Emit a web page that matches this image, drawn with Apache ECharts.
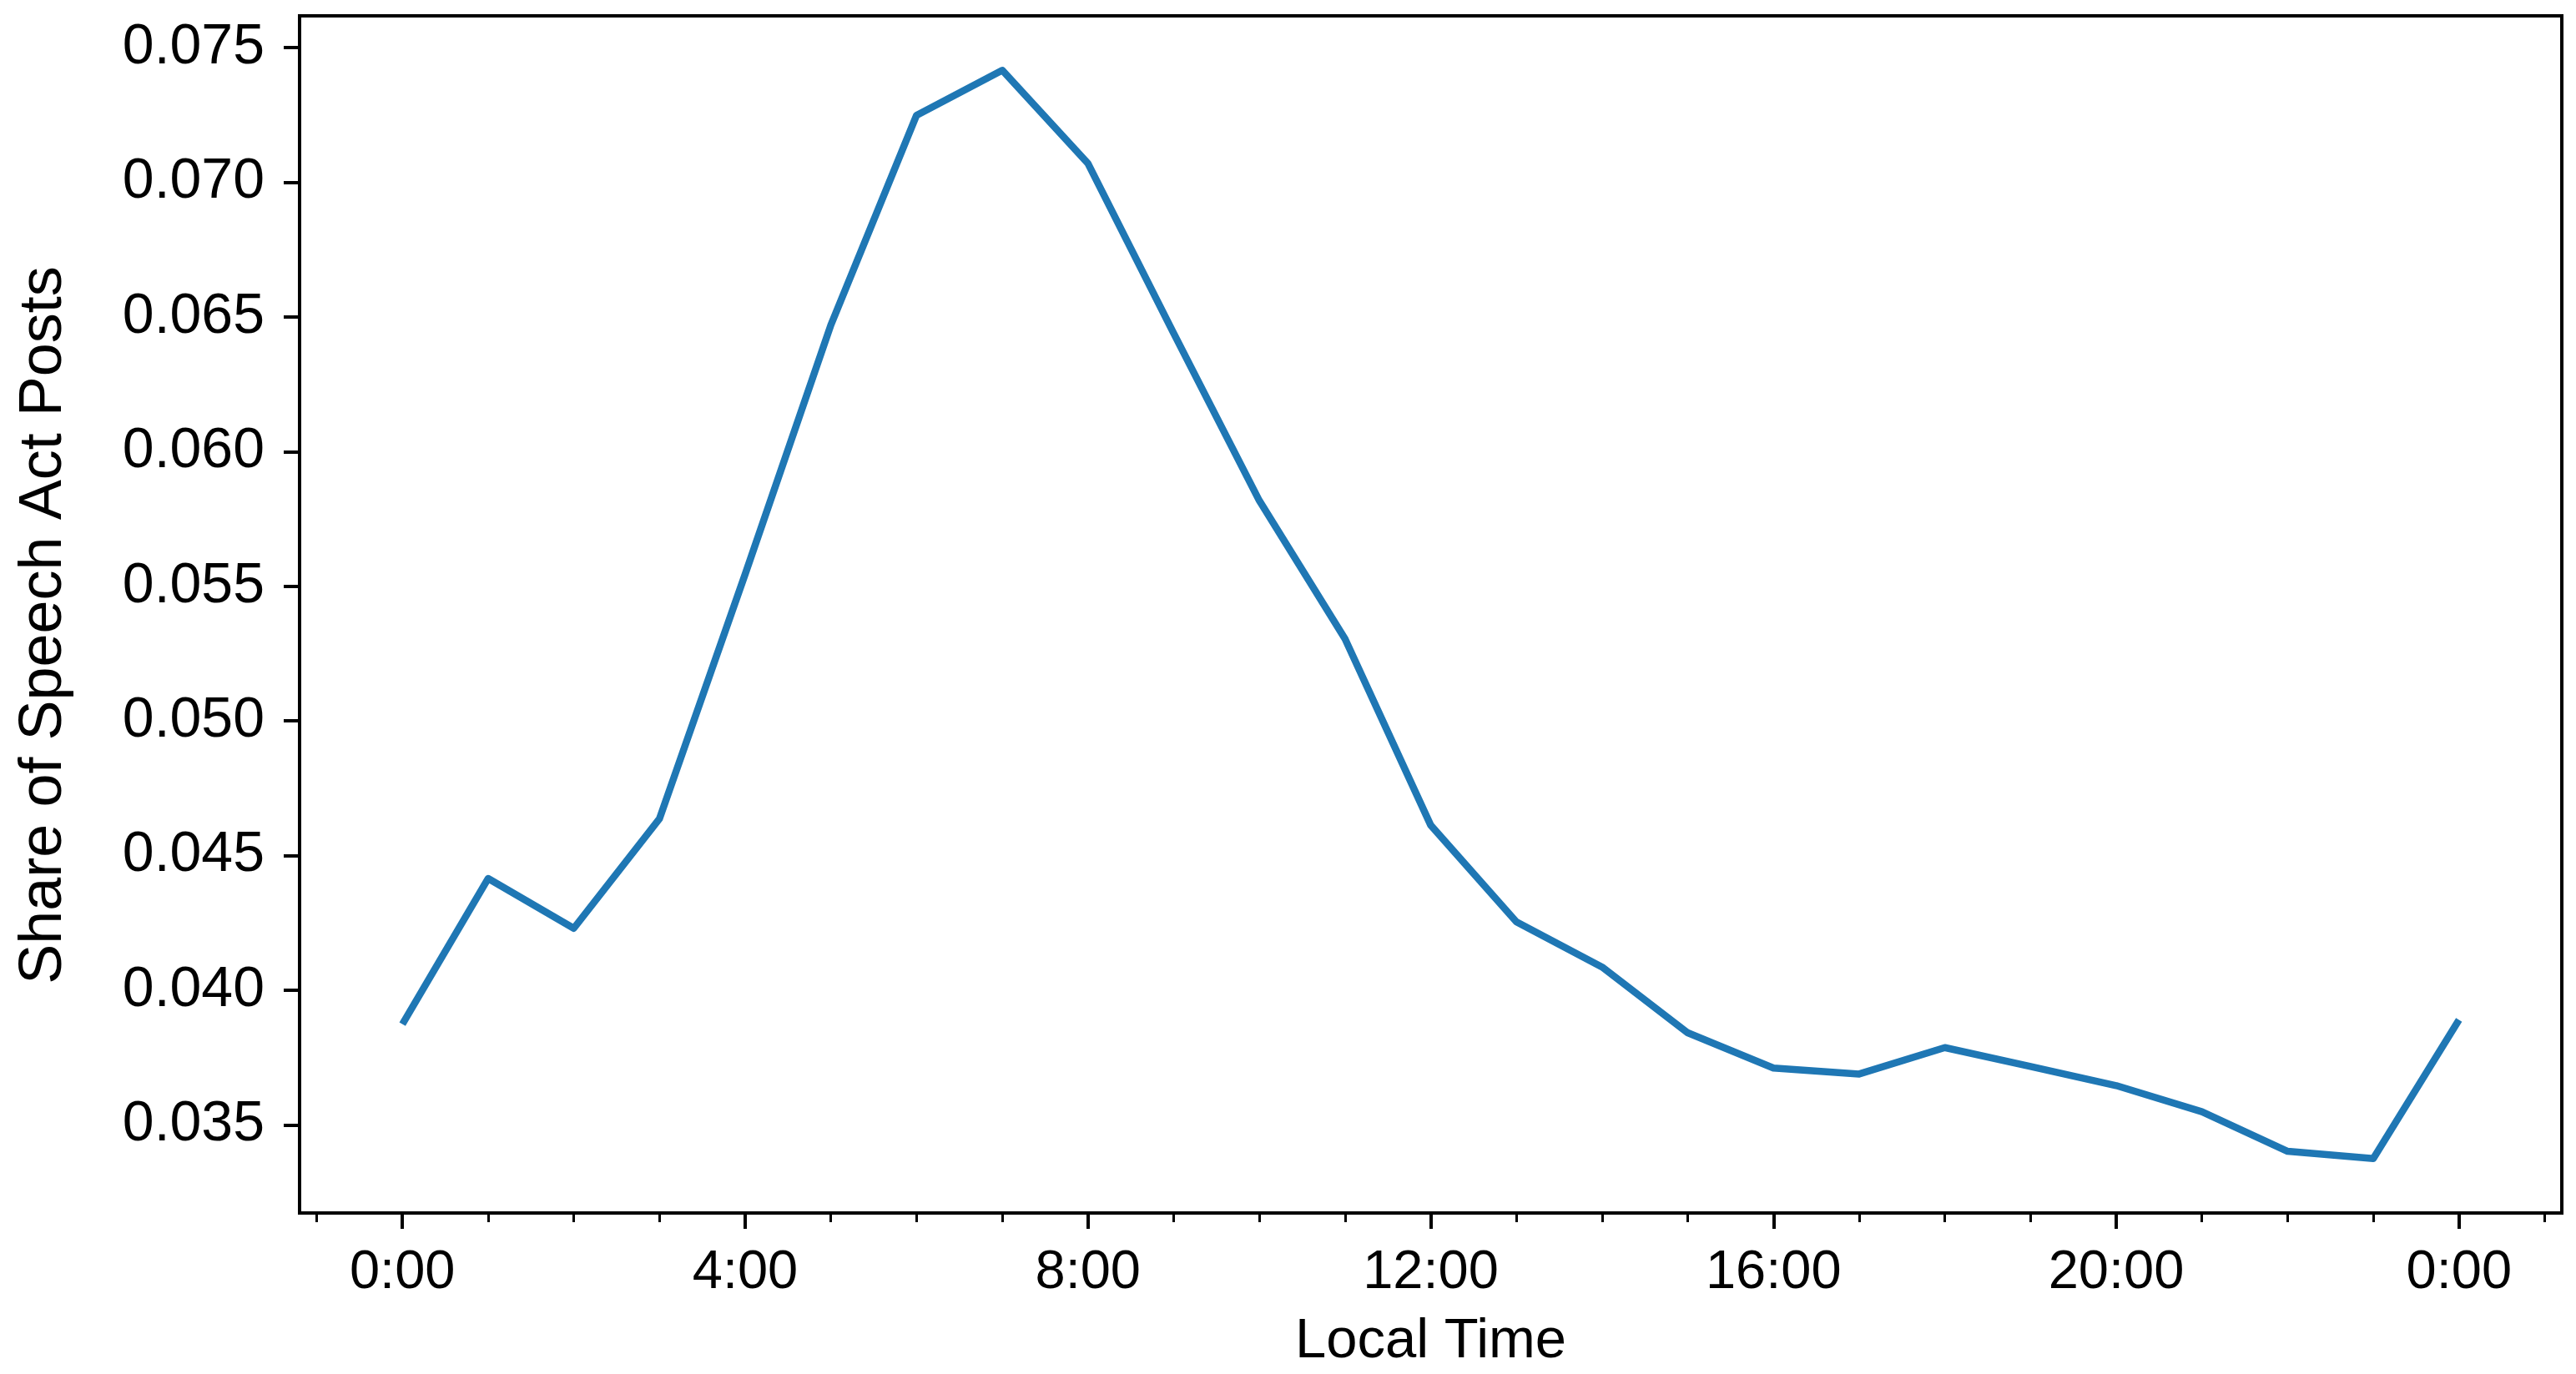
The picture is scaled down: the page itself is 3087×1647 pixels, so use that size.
<!DOCTYPE html>
<html>
<head>
<meta charset="utf-8">
<script src="https://cdn.jsdelivr.net/npm/echarts@6/dist/echarts.min.js"></script>
<style>
html,body{margin:0;padding:0;background:#fff;}
#c{width:3087px;height:1647px;}
</style>
</head>
<body>
<div id="c"></div>
<script>
// Data
var hours = [0,1,2,3,4,5,6,7,8,9,10,11,12,13,14,15,16,17,18,19,20,21,22,23,24];
var share = [0.03874,0.04415,0.04230,0.04637,0.05545,0.06470,0.07249,0.07416,0.07070,0.06440,
             0.05818,0.05305,0.04613,0.04254,0.04086,0.03842,0.03711,0.03689,0.03787,0.03717,
             0.03646,0.03549,0.03402,0.03375,0.03890];
var xMajorTicks = [0,4,8,12,16,20,24];
var xMinorTicks = [-1,0,1,2,3,4,5,6,7,8,9,10,11,12,13,14,15,16,17,18,19,20,21,22,23,24,25];
var yTicks = [0.035,0.040,0.045,0.050,0.055,0.060,0.065,0.070,0.075];
var xName = 'Local Time';
var yName = 'Share of Speech Act Posts';

var pts = hours.map(function(h,i){return [h, share[i]];});
var ymin = Math.min.apply(null, share), ymax = Math.max.apply(null, share);
var yr = ymax - ymin;
var xr = hours[hours.length-1] - hours[0];

var FONT = 'Liberation Sans';
var chart = echarts.init(document.getElementById('c'), null, {renderer:'canvas'});
chart.setOption({
  animation:false,
  backgroundColor:'#fff',
  grid:{left:359, right:17, top:19, bottom:192, show:true, borderColor:'#000', borderWidth:4, backgroundColor:'transparent'},
  xAxis:[{
    type:'value', min:hours[0]-0.05*xr, max:hours[hours.length-1]+0.05*xr,
    position:'bottom',
    name:xName, nameLocation:'middle', nameGap:121,
    nameTextStyle:{fontFamily:FONT, fontSize:67, color:'#000'},
    axisLine:{show:true, onZero:false, lineStyle:{color:'#000', width:4}},
    axisTick:{show:true, length:19, lineStyle:{color:'#000', width:4}, customValues:xMajorTicks},
    axisLabel:{show:true, margin:40, fontFamily:FONT, fontSize:65, color:'#000', customValues:xMajorTicks,
      formatter:function(v){return (Math.round(v)%24)+':00';}},
    splitLine:{show:false}
  },{
    type:'value', min:hours[0]-0.05*xr, max:hours[hours.length-1]+0.05*xr,
    position:'bottom', offset:0,
    axisLine:{show:false, onZero:false},
    axisTick:{show:true, length:11, lineStyle:{color:'#000', width:3}, customValues:xMinorTicks},
    axisLabel:{show:false},
    splitLine:{show:false}
  }],
  yAxis:{
    type:'value', min:ymin-0.05*yr, max:ymax+0.05*yr,
    position:'left',
    name:yName, nameLocation:'middle', nameGap:270, nameRotate:90,
    nameTextStyle:{fontFamily:FONT, fontSize:72, color:'#000', padding:[0,26,0,0]},
    axisLine:{show:true, onZero:false, lineStyle:{color:'#000', width:4}},
    axisTick:{show:true, length:19, lineStyle:{color:'#000', width:4}, customValues:yTicks},
    axisLabel:{show:true, margin:42, fontFamily:FONT, fontSize:68, color:'#000', customValues:yTicks,
      formatter:function(v){return v.toFixed(3);}},
    splitLine:{show:false}
  },
  series:[{
    type:'line', data:pts, xAxisIndex:0, showSymbol:false, symbol:'none',
    lineStyle:{color:'#1f77b4', width:8.5, join:'round'}, z:3
  }]
});
</script>
</body>
</html>
